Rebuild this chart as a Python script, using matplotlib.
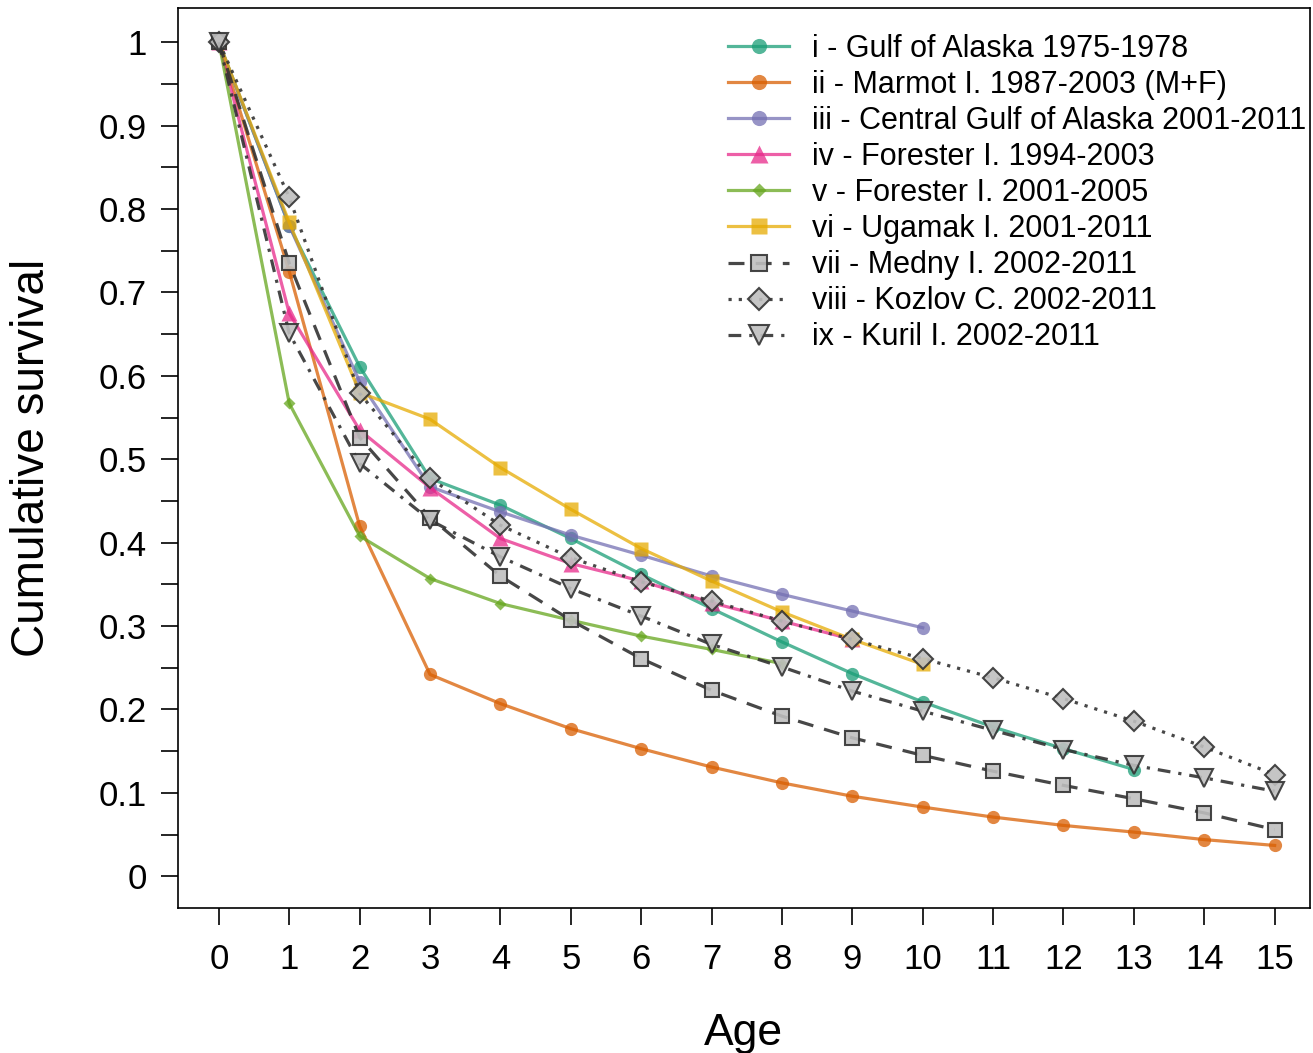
import matplotlib
matplotlib.use("Agg")
import matplotlib.pyplot as plt
import numpy as np

plt.rcParams['font.family'] = ['Liberation Sans', 'DejaVu Sans']

labels = ["i - Gulf of Alaska 1975-1978",
          "ii - Marmot I. 1987-2003 (M+F)",
          "iii - Central Gulf of Alaska 2001-2011",
          "iv - Forester I. 1994-2003",
          "v - Forester I. 2001-2005",
          "vi - Ugamak I. 2001-2011",
          "vii - Medny I. 2002-2011",
          "viii - Kozlov C. 2002-2011",
          "ix - Kuril I. 2002-2011"]

s_i = [1.0, 0.78, 0.611, 0.477, 0.445, 0.405, 0.362, 0.321, 0.281, 0.243, 0.209, 0.179, 0.153, 0.128]
s_ii = [1.0, 0.725, 0.42, 0.242, 0.207, 0.177, 0.153, 0.131, 0.112, 0.096, 0.083, 0.071, 0.061, 0.053, 0.044, 0.037]
s_iii = [1.0, 0.78, 0.593, 0.467, 0.437, 0.409, 0.385, 0.36, 0.338, 0.318, 0.298]
s_iv = [1.0, 0.675, 0.535, 0.466, 0.405, 0.375, 0.354, 0.328, 0.306, 0.284]
s_v = [1.0, 0.567, 0.408, 0.357, 0.327, 0.307, 0.288, 0.272, 0.255]
s_vi = [1.0, 0.784, 0.58, 0.548, 0.49, 0.44, 0.393, 0.354, 0.317, 0.284, 0.254]
s_vii = [1.0, 0.735, 0.526, 0.43, 0.36, 0.307, 0.261, 0.223, 0.192, 0.166, 0.145, 0.126, 0.109, 0.093, 0.076, 0.056]
s_viii = [1.0, 0.814, 0.579, 0.477, 0.421, 0.382, 0.353, 0.33, 0.306, 0.284, 0.261, 0.238, 0.213, 0.186, 0.155, 0.122]
s_ix = [1.0, 0.651, 0.495, 0.427, 0.383, 0.345, 0.312, 0.278, 0.251, 0.222, 0.198, 0.175, 0.152, 0.133, 0.118, 0.102]

series = [s_i, s_ii, s_iii, s_iv, s_v, s_vi, s_vii, s_viii, s_ix]

x_ticks = list(range(0, 16))
y_ticks = [0, 0.1, 0.2, 0.3, 0.4, 0.5, 0.6, 0.7, 0.8, 0.9, 1]
y_ticklabels = ["0", "0.1", "0.2", "0.3", "0.4", "0.5", "0.6", "0.7", "0.8", "0.9", "1"]

colors = ["#1b9e77", "#d95f02", "#7570b3", "#e7298a", "#66a61e", "#e6ab02"]
markers = ["o", "o", "o", "^", "D", "s"]
msizes = [9.5, 9.5, 9.5, 11, 6.5, 10]

fig = plt.figure(figsize=(13.13, 10.53), dpi=100)
ax = fig.add_axes([0.1356, 0.1377, 0.862, 0.8547])

for k in range(6):
    y = series[k]
    ax.plot(range(len(y)), y, color=colors[k], lw=2.3, marker=markers[k],
            ms=msizes[k], alpha=0.75, label=labels[k], mec='none')

gray_styles = [("s", (0, (5, 3.5)), 10), ("D", (0, (1, 2.2)), 10), ("v", (0, (4, 2.5, 1, 2.5)), 13)]
for j, (mk, ls, ms) in enumerate(gray_styles):
    y = series[6 + j]
    ax.plot(range(len(y)), y, color="#333333", lw=2.3, ls=ls, marker=mk, ms=ms,
            mfc=(0.75, 0.75, 0.75, 0.7), mec="#333333", mew=1.5, alpha=0.9, label=labels[6 + j])

ax.set_xlim(-0.58, 15.5)
ax.set_ylim(-0.038, 1.041)
ax.set_xticks(x_ticks)
ax.set_xticklabels([str(v) for v in x_ticks])
ax.set_yticks(y_ticks)
ax.set_yticklabels(y_ticklabels)
ax.set_yticks(np.arange(0.05, 1.0, 0.1), minor=True)
ax.tick_params(axis='both', which='both', direction='out', length=12.5, width=1.2, labelsize=25)
ax.tick_params(axis='y', which='both', pad=10)
ax.tick_params(axis='x', which='both', pad=13)
for sp in ax.spines.values():
    sp.set_linewidth(1.2)

ax.set_xlabel("Age", fontsize=32, labelpad=26)
ax.set_ylabel("Cumulative survival", fontsize=33, labelpad=32)

leg = ax.legend(loc='upper left', bbox_to_anchor=(0.47, 0.992), frameon=False, fontsize=22,
                handlelength=2.0, labelspacing=0.2, handletextpad=0.75, borderaxespad=0.2,
                markerscale=1.15)

fig.savefig("out.png", dpi=100)
